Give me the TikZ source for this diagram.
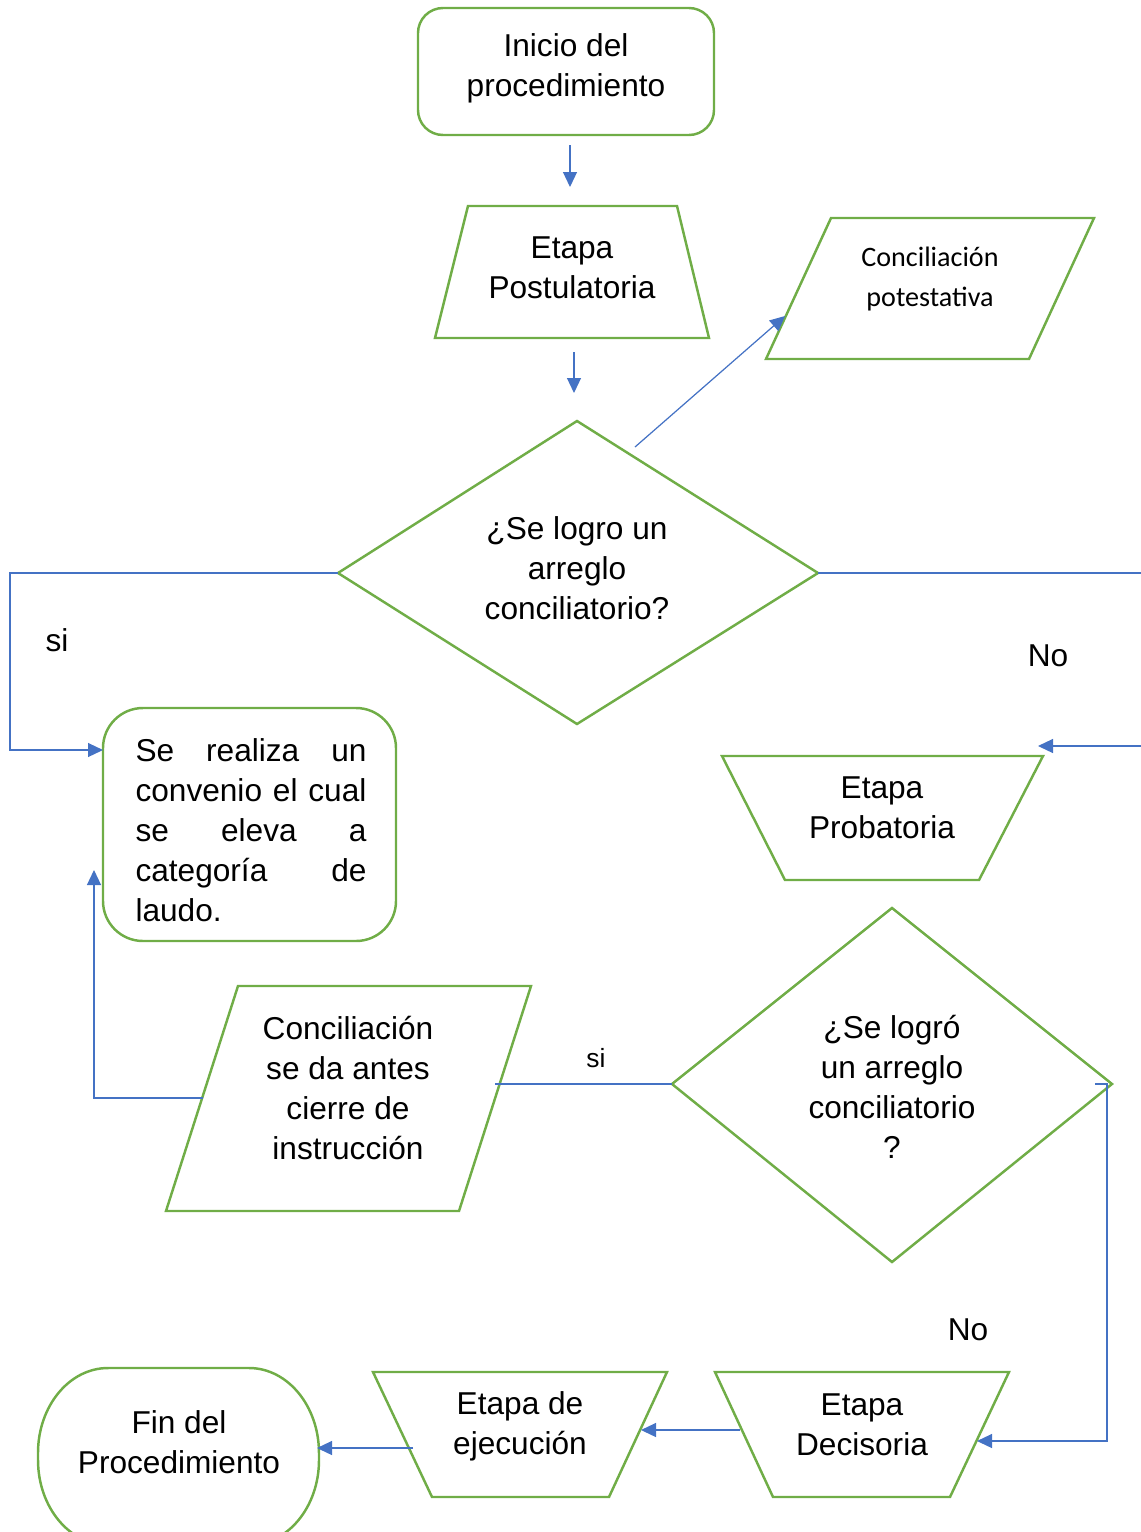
\documentclass[tikz,border=0pt]{standalone}
\usepackage{fontspec}
\setmainfont{Liberation Sans}
\newfontfamily\carlito{Carlito}
\usepackage{tikz}
\usetikzlibrary{arrows.meta}
\definecolor{verde}{RGB}{112,173,71}
\definecolor{azul}{RGB}{68,114,196}
\tikzset{forma/.style={draw=verde, line width=1.4pt, -}, flecha/.style={draw=azul, line width=0.7pt}, texto/.style={align=center, inner sep=0pt}}

\begin{document}
\begin{tikzpicture}[x=0.02cm, y=-0.02cm, font=\fontsize{18}{22.7}\selectfont, -{Triangle[length=3mm,width=2.8mm]}]
	\useasboundingbox (0,0) rectangle (1141,1532);
	\clip (0,0) rectangle (1141,1532);
	\draw[forma, rounded corners=0.5cm] (418,8) rectangle (714,135);
	\node[texto] (inicio) at (566,68) {Inicio del\\procedimiento};
	\draw[forma] (468,206) -- (677,206) -- (709,338) -- (435,338) -- cycle;
	\node[texto] (postulatoria) at (572,268) {Etapa\\Postulatoria};
	\draw[forma] (831,218) -- (1094,218) -- (1029,359) -- (766,359) -- cycle;
	\node[texto, font=\carlito\fontsize{16}{22.2}\selectfont] (potestativa) at (930,279) {Conciliación\\potestativa};
	\draw[forma] (577,421) coordinate (d1n) -- (818,573) coordinate (d1e) -- (577,724) coordinate (d1s) -- (338,573) coordinate (d1w) -- cycle;
	\node[texto] (pregunta1) at (577,568) {¿Se logro un\\arreglo\\conciliatorio?};
	\draw[forma, rounded corners=0.8cm] (103,708) rectangle (396,941);
	\coordinate (convW) at (103,750);
	\coordinate (convS) at (94,870);
	\node[text width=4.62cm, align=justify, inner sep=0pt] (convenio) at (251,830) {Se realiza un\linebreak convenio el cual\linebreak se eleva a\linebreak categoría de\linebreak laudo.};
	\draw[forma] (722,756) -- (1043,756) -- (979,880) -- (785,880) -- cycle;
	\node[texto] (probatoria) at (882,808) {Etapa\\Probatoria};
	\draw[forma] (238,986) -- (531,986) -- (459,1211) -- (166,1211) -- cycle;
	\node[texto] (antescierre) at (348,1088) {Conciliación\\se da antes\\cierre de\\instrucción};
	\draw[forma] (892,908) coordinate (d2n) -- (1112,1084) coordinate (d2e) -- (892,1262) coordinate (d2s) -- (672,1084) coordinate (d2w) -- cycle;
	\node[texto] (pregunta2) at (892,1087) {¿Se logró\\un arreglo\\conciliatorio\\?};
	\draw[forma] (715,1372) -- (1009,1372) -- (950,1497) -- (773,1497) -- cycle;
	\node[texto] (decisoria) at (862,1425) {Etapa\\Decisoria};
	\draw[forma] (373,1372) -- (667,1372) -- (609,1497) -- (432,1497) -- cycle;
	\node[texto] (ejecucion) at (520,1426) {Etapa de\\ejecución};
	\draw[forma] (108,1368) -- (249,1368) arc[start angle=90, end angle=0, x radius=1.4cm, y radius=1.7cm] -- (319,1460) arc[start angle=0, end angle=-90, x radius=1.4cm, y radius=1.7cm] -- (108,1545) arc[start angle=270, end angle=180, x radius=1.4cm, y radius=1.7cm] -- (38,1453) arc[start angle=180, end angle=90, x radius=1.4cm, y radius=1.7cm] -- cycle;
	\node[texto] (fin) at (179,1442) {Fin del\\Procedimiento};
	\coordinate (a1) at (570,145); \coordinate (a2) at (570,187);
	\coordinate (b1) at (574,352); \coordinate (b2) at (574,393);
	\coordinate (c1) at (635,447); \coordinate (c2) at (785,316);
	\coordinate (e1) at (203,1098);
	\coordinate (f1) at (495,1084);
	\coordinate (g1) at (1095,1084); \coordinate (g2) at (977,1441);
	\coordinate (h1) at (740,1430); \coordinate (h2) at (641,1430);
	\coordinate (k1) at (413,1448); \coordinate (k2) at (317,1448);
	\coordinate (p1) at (1038,746);
	\draw[flecha] (a1) -- (a2);
	\draw[flecha] (b1) -- (b2);
	\draw[flecha] (c1) -- (c2);
	\draw[flecha] (d1w) -- (10,573) |- (convW);
	\draw[flecha] (d1e) -- (1150,573) |- (p1);
	\draw[flecha] (e1) -| (convS);
	\draw[flecha, -] (f1) -- (d2w);
	\draw[flecha] (g1) -- (1107,1084) |- (g2);
	\draw[flecha] (h1) -- (h2);
	\draw[flecha] (k1) -- (k2);
	\node (si1) at (57,640) {si};
	\node (no1) at (1048,656) {No};
	\node[font=\fontsize{15}{18}\selectfont] (si2) at (596,1058) {si};
	\node (no2) at (968,1330) {No};
\end{tikzpicture}
\end{document}
